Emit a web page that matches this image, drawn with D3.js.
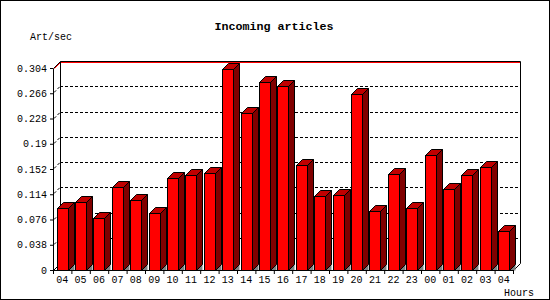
<!DOCTYPE html>
<html>
  <head>
    <script src="https://d3js.org/d3.v7.min.js"></script>
    <style>
      body { margin: 0; background: #fff; }
      text { font-family: "Liberation Mono", "DejaVu Sans Mono", monospace; font-size: 10px; fill: #000; }
      .title { font-weight: bold; font-size: 11.7px; }
    </style>
  </head>
  <body>
    <svg id="chart" width="550" height="300"></svg>
    <script>
      // hours shown on the x axis
      var hours = ["04","05","06","07","08","09","10","11","12","13","14","15","16",
                   "17","18","19","20","21","22","23","00","01","02","03","04"];
      // articles per second
      var rates = [0.0929, 0.1019, 0.0778, 0.1254, 0.1049, 0.0853, 0.138, 0.143, 0.146,
                   0.3025, 0.2363, 0.2825, 0.2762, 0.1576, 0.1109, 0.1124, 0.2644, 0.0883,
                   0.1445, 0.0929, 0.1731, 0.1215, 0.1425, 0.1546, 0.0582];
      var yTicks = [0, 0.038, 0.076, 0.114, 0.152, 0.19, 0.228, 0.266, 0.304];
      var yTickLabels = ["0", "0.038", "0.076", "0.114", "0.152", "0.19", "0.228", "0.266", "0.304"];

      var svg = d3.select("#chart");
      var depth = 7, bd = 6;
      var x0 = 53, x1 = 513, yb = 270, yt = 68;

      var x = d3.scaleBand().domain(d3.range(hours.length)).range([x0, x1]);
      var xb = d3.scaleLinear().domain([0, hours.length]).range([x0, x1]);
      var y = d3.scaleLinear().domain([0, 0.304]).range([yb, yt]);

      // outer border
      svg.append("rect").attr("x", 0.5).attr("y", 0.5).attr("width", 549).attr("height", 299)
        .attr("fill", "none").attr("stroke", "#000");

      // grid on back wall + side wall
      var g = svg.append("g");
      yTicks.slice(1, -1).forEach(function(t) {
        var yy = Math.round(y(t)) + 0.5;
        g.append("line").attr("x1", x0 + depth).attr("x2", x1 + depth)
          .attr("y1", yy - depth).attr("y2", yy - depth)
          .attr("stroke", "#000").attr("stroke-dasharray", "3,2");
        g.append("line").attr("x1", x0 + 1).attr("x2", x0 + depth)
          .attr("y1", yy - 1).attr("y2", yy - depth)
          .attr("stroke", "#000").attr("stroke-dasharray", "3,2");
      });

      // frame of the back wall
      var wallTop = Math.round(yt) - depth + 0.5;
      g.append("line").attr("x1", x0 + depth + 1).attr("x2", x1 + depth).attr("y1", wallTop + 1).attr("y2", wallTop + 1)
        .attr("stroke", "#f00");
      g.append("line").attr("x1", x0 + 1.5).attr("x2", x0 + depth + 0.5).attr("y1", yt + 0.5).attr("y2", wallTop + 1)
        .attr("stroke", "#f00");
      g.append("path")
        .attr("d", "M" + (x0 + 0.5) + "," + (yt + 0.5) + "L" + (x0 + depth + 0.5) + "," + wallTop +
                   "L" + (x1 + depth + 0.5) + "," + wallTop + "L" + (x1 + depth + 0.5) + "," + (yb - depth + 0.5) +
                   "L" + (x1 + 0.5) + "," + (yb + 0.5))
        .attr("fill", "none").attr("stroke", "#000");
      g.append("line").attr("x1", x0 + depth + 0.5).attr("x2", x0 + depth + 0.5).attr("y1", wallTop).attr("y2", yb - depth)
        .attr("stroke", "#000");
      g.append("line").attr("x1", x0 + 0.5).attr("x2", x0 + depth + 0.5).attr("y1", yb + 0.5).attr("y2", yb - depth + 0.5)
        .attr("stroke", "#000");

      // bars
      var bars = svg.append("g").selectAll("g").data(rates).enter().append("g");
      function fx(i) { return Math.round(x(i) + x.bandwidth() * 0.2) + 0.5; }
      function fw() { return Math.round(x.bandwidth() * 0.6); }
      bars.append("path") // floor shadow
        .attr("d", function(d, i) {
          var r = fx(i) + fw();
          return "M" + r + "," + (yb + 0.5) + "L" + (r + bd) + "," + (yb + 0.5 - bd) + "L" + (r + bd) + "," + (yb + 0.5) + "Z";
        })
        .attr("fill", "#808080").attr("stroke", "none");
      bars.append("path") // side
        .attr("d", function(d, i) {
          var r = fx(i) + fw(), t = Math.round(y(d)) + 0.5;
          return "M" + r + "," + t + "L" + (r + bd) + "," + (t - bd) + "L" + (r + bd) + "," + (yb + 0.5 - bd) + "L" + r + "," + (yb + 0.5) + "Z";
        })
        .attr("fill", "#800000").attr("stroke", "#000");
      bars.append("path") // top
        .attr("d", function(d, i) {
          var l = fx(i), r = l + fw(), t = Math.round(y(d)) + 0.5;
          return "M" + l + "," + t + "L" + (l + bd) + "," + (t - bd) + "L" + (r + bd) + "," + (t - bd) + "L" + r + "," + t + "Z";
        })
        .attr("fill", "#c00000").attr("stroke", "#000");
      bars.append("rect") // front
        .attr("x", function(d, i) { return fx(i); })
        .attr("y", function(d) { return Math.round(y(d)) + 0.5; })
        .attr("width", fw())
        .attr("height", function(d) { return yb - Math.round(y(d)); })
        .attr("fill", "#ff0000").attr("stroke", "#000");

      // y axis
      var yAxis = d3.axisLeft(y).tickValues(yTicks).tickSize(3).tickSizeOuter(0)
        .tickFormat(function(d, i) { return yTickLabels[i]; });
      var ya = svg.append("g").attr("transform", "translate(" + x0 + ",0)").call(yAxis);
      ya.selectAll("text").attr("x", -6);
      ya.attr("font-family", null).attr("font-size", null);
      ya.select(".domain").attr("stroke", "#000");

      // x axis: ticks between bands, labels centred
      var xAxis = d3.axisBottom(xb).tickValues(d3.range(hours.length + 1)).tickSize(4).tickSizeOuter(0).tickFormat("");
      var xa = svg.append("g").attr("transform", "translate(0," + yb + ")").call(xAxis);
      xa.attr("font-family", null).attr("font-size", null);
      svg.append("g").selectAll("text").data(hours).enter().append("text")
        .attr("x", function(d, i) { return x(i) + x.bandwidth() / 2; })
        .attr("y", 283)
        .attr("text-anchor", "middle")
        .text(function(d) { return d; });

      // titles
      svg.append("text").attr("class", "title").attr("x", 274).attr("y", 30).attr("text-anchor", "middle").text("Incoming articles");
      svg.append("text").attr("x", 30).attr("y", 40).text("Art/sec");
      svg.append("text").attr("x", 504).attr("y", 296).text("Hours");
    </script>
  </body>
</html>
